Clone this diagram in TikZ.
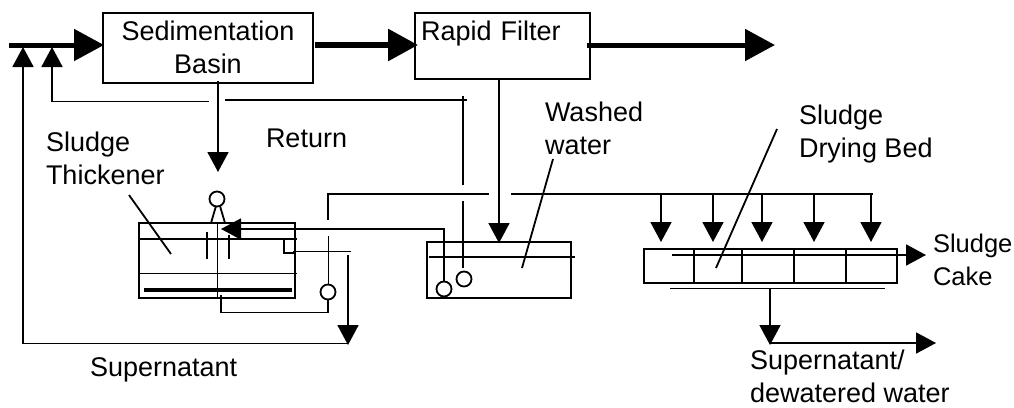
\documentclass[tikz,border=0pt]{standalone}
\usepackage{fontspec}
\setmainfont{Liberation Sans}
\usetikzlibrary{arrows.meta}
\tikzset{
  x=1pt,y=-1pt,
  every node/.style={font=\fontsize{27}{33}\selectfont,inner sep=0pt,outer sep=0pt},
  lbl/.style={align=left,anchor=north west},
  one/.style={anchor=base west},
  box/.style={draw,line width=1.8pt,rectangle},
  ln/.style={line width=1.8pt},
  hd/.style={line width=1.8pt,-{Triangle[length=20pt,width=21pt]}},
  hdmain/.style={line width=5pt,-{Triangle[length=30pt,width=31pt]}},
  pump/.style={draw,circle,line width=1.8pt,minimum size=15pt,fill=white},
  bar/.style={line width=4pt}
}
\begin{document}
\begin{tikzpicture}[line cap=butt]
\useasboundingbox (0,0) rectangle (1014,407);
% process boxes
\node[box,minimum width=210pt,minimum height=70pt,align=center] (sed) at (208,48)
  {Sedimentation\\Basin\rule[-1.7pt]{0pt}{0pt}};
\node[box,minimum width=175pt,minimum height=66pt,inner xsep=6pt,text width=163pt,align=left] (filt) at (502.5,46)
  {\rule[-30.7pt]{0pt}{0pt}Rapid Filter};
\node[box,minimum width=156pt,minimum height=75pt] (thick) at (217,260.5) {};
\node[box,minimum width=144pt,minimum height=56pt] (wash) at (499,270) {};
\node[box,minimum width=253pt,minimum height=34pt] (bed) at (770.5,266) {};
% labels
\node[lbl] (l1) at (46,132) {Sludge\\Thickener};
\node[one] (l3) at (266,147) {Return};
\node[one] (l4) at (90,376) {Supernatant};
\node[lbl] (l5) at (545,102) {Washed\\water};
\node[lbl] (l7) at (799,105) {Sludge\\Drying Bed};
\node[lbl,font=\fontsize{25.5}{33}\selectfont] (l9) at (933,234) {Sludge\\Cake};
\node[lbl] (l11) at (750,350) {Supernatant/\\dewatered water};
% pumps
\node[pump] (p0) at (217,199) {};
\node[pump] (p1) at (328,292) {};
\node[pump] (p2) at (464,279) {};
\node[pump] (p3) at (444,289) {};
% main flow
\coordinate (in) at (9,45);
\coordinate (sedW) at (104,45);
\coordinate (sedE) at (315,45);
\coordinate (filtW) at (418,45);
\coordinate (filtE) at (587,45);
\coordinate (out) at (775,45);
\draw[hdmain] (in) -- (sedW);
\draw[hdmain,line width=6pt] (sedE) -- (filtW);
\draw[hdmain] (filtE) -- (out);
% returns
\coordinate (r1) at (23,47);
\coordinate (r1b) at (23,343.5);
\coordinate (r1c) at (348,343.5);
\draw[hd] (r1c) -- (r1b) -- (r1);
\draw[hd] (348,255) -- (348,345);
\coordinate (r2) at (52,47);
\draw[hd] (209,101.5) -- (52,101.5) -- (r2);
\draw[ln] (225,100) -- (467,100);
\draw[ln] (463,96) -- (463,185);
\draw[ln] (463,201) -- (463,268);
% sedimentation to thickener
\draw[hd] (218,81) -- (218,172);
\draw[ln] (216,206) -- (211,223);
\draw[ln] (220,206) -- (225,223);
% thickener internals
\draw[ln] (139,239) -- (297,239);
\draw[ln] (139,273.5) -- (297,273.5);
\draw[bar] (144,290) -- (292,290);
\draw[ln] (217.5,223) -- (217.5,298);
\draw[ln] (207,232) -- (207,259);
\draw[ln] (229,235) -- (229,259);
\draw[ln] (284,240) -- (284,253) -- (295,253);
\draw[ln] (293,251.5) -- (351,251.5);
% thickener underflow
\draw[ln] (328,300) -- (328,312.5) -- (221,312.5) -- (221,295);
\draw[ln] (328.5,236) -- (328.5,284);
\draw[ln] (328,220) -- (328,194) -- (489,194);
\draw[ln] (511,194) -- (873,194);
% washed water to thickener
\draw[hd] (444,281) -- (444,229) -- (221,229);
% filter to washed tank
\draw[hd] (499,79) -- (499,243);
\draw[ln] (429,257) -- (575,257);
% drying bed
\foreach \x in {661,713,762,814,871} \draw[hd] (\x,194) -- (\x,242);
\foreach \x in {694,742,794,846} \draw[ln] (\x,250) -- (\x,283);
\draw[hd] (672,255) -- (926,255);
\draw[ln] (670,288.5) -- (885,288.5);
\draw[hd] (770,289) -- (770,345);
\draw[hd] (770,343) -- (936,343);
% leaders
\draw[ln] (129,195) -- (171,254);
\draw[ln] (553,159) -- (522,268);
\draw[ln] (777,129) -- (716,268);
\end{tikzpicture}
\end{document}
